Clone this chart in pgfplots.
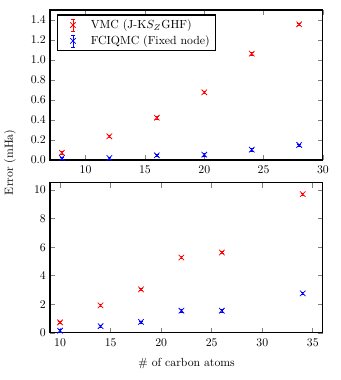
\documentclass[border=0pt]{standalone}
\usepackage{pgfplots}
\pgfplotsset{compat=1.18}

\pgfplotsset{
  errpanel/.style={
    scale only axis,
    width=232pt,
    height=127.5pt,
    axis line style={black, line width=0.9pt},
    tick style={gray, line width=0.6pt},
    major tick length=4pt,
    tick align=inside,
    xtick pos=both,
    ytick pos=both,
    xticklabel style={yshift=-1.5pt},
    error bars/error bar style={line width=0.5pt},
    error bars/error mark options={rotate=90, mark size=1.5pt, line width=0.5pt},
  },
  vmc/.style={only marks, mark=x, mark size=3.3pt, line width=0.65pt, color=red},
  fciqmc/.style={only marks, mark=x, mark size=3.3pt, line width=0.65pt, color=blue},
}

\begin{document}
\begin{tikzpicture}
\path[use as bounding box] (-42.5pt,-40pt) rectangle (246.5pt,283pt);
% upper panel
\begin{axis}[
  errpanel,
  at={(0pt,147pt)},
  xmin=7, xmax=30,
  ymin=0, ymax=1.5,
  xtick={10,15,20,25,30},
  ytick={0,0.2,0.4,0.6,0.8,1.0,1.2,1.4},
  yticklabel style={/pgf/number format/.cd, fixed, fixed zerofill, precision=1},
  legend style={at={(0.025,0.97)}, anchor=north west, draw=black, line width=0.9pt, font=\normalsize,
    row sep=0.5pt, inner sep=2pt, inner xsep=3pt},
  legend cell align=left,
  legend image code/.code={
    \path (0cm,0cm) (0.8cm,0cm);
    \draw[#1, line width=0.5pt] (0.35cm,-0.18cm) -- (0.35cm,0.18cm);
    \draw[#1, line width=0.5pt] (0.3cm,0.18cm) -- (0.4cm,0.18cm);
    \draw[#1, line width=0.5pt] (0.3cm,-0.18cm) -- (0.4cm,-0.18cm);
    \draw[#1] plot coordinates {(0.35cm,0cm)};
  },
]
\addplot[vmc, error bars/.cd, y dir=both, y explicit] coordinates {
  (8,0.073) +- (0,0.012)
  (12,0.237) +- (0,0.012)
  (16,0.423) +- (0,0.012)
  (20,0.677) +- (0,0.012)
  (24,1.063) +- (0,0.012)
  (28,1.357) +- (0,0.012)
};
\addlegendentry{VMC (J-K$S_Z$GHF)}
\addplot[fciqmc, error bars/.cd, y dir=both, y explicit] coordinates {
  (8,0.020) +- (0,0.012)
  (12,0.020) +- (0,0.012)
  (16,0.047) +- (0,0.012)
  (20,0.053) +- (0,0.012)
  (24,0.103) +- (0,0.012)
  (28,0.150) +- (0,0.012)
};
\addlegendentry{FCIQMC (Fixed node)}
\end{axis}

% lower panel
\begin{axis}[
  errpanel,
  at={(0pt,0pt)},
  xmin=9, xmax=36,
  ymin=0, ymax=10.5,
  xtick={10,15,20,25,30,35},
  ytick={0,2,4,6,8,10},
  xlabel={\# of carbon atoms},
  xlabel style={yshift=-3pt},
]
\addplot[vmc, error bars/.cd, y dir=both, y explicit] coordinates {
  (10,0.74) +- (0,0.08)
  (14,1.93) +- (0,0.08)
  (18,3.05) +- (0,0.08)
  (22,5.28) +- (0,0.08)
  (26,5.63) +- (0,0.08)
  (34,9.72) +- (0,0.08)
};
\addplot[fciqmc, error bars/.cd, y dir=both, y explicit] coordinates {
  (10,0.16) +- (0,0.08)
  (14,0.47) +- (0,0.08)
  (18,0.77) +- (0,0.08)
  (22,1.56) +- (0,0.08)
  (26,1.56) +- (0,0.08)
  (34,2.77) +- (0,0.08)
};
\end{axis}

\node[rotate=90, anchor=center] at (-34pt,145pt) {Error (mHa)};
\end{tikzpicture}
\end{document}
